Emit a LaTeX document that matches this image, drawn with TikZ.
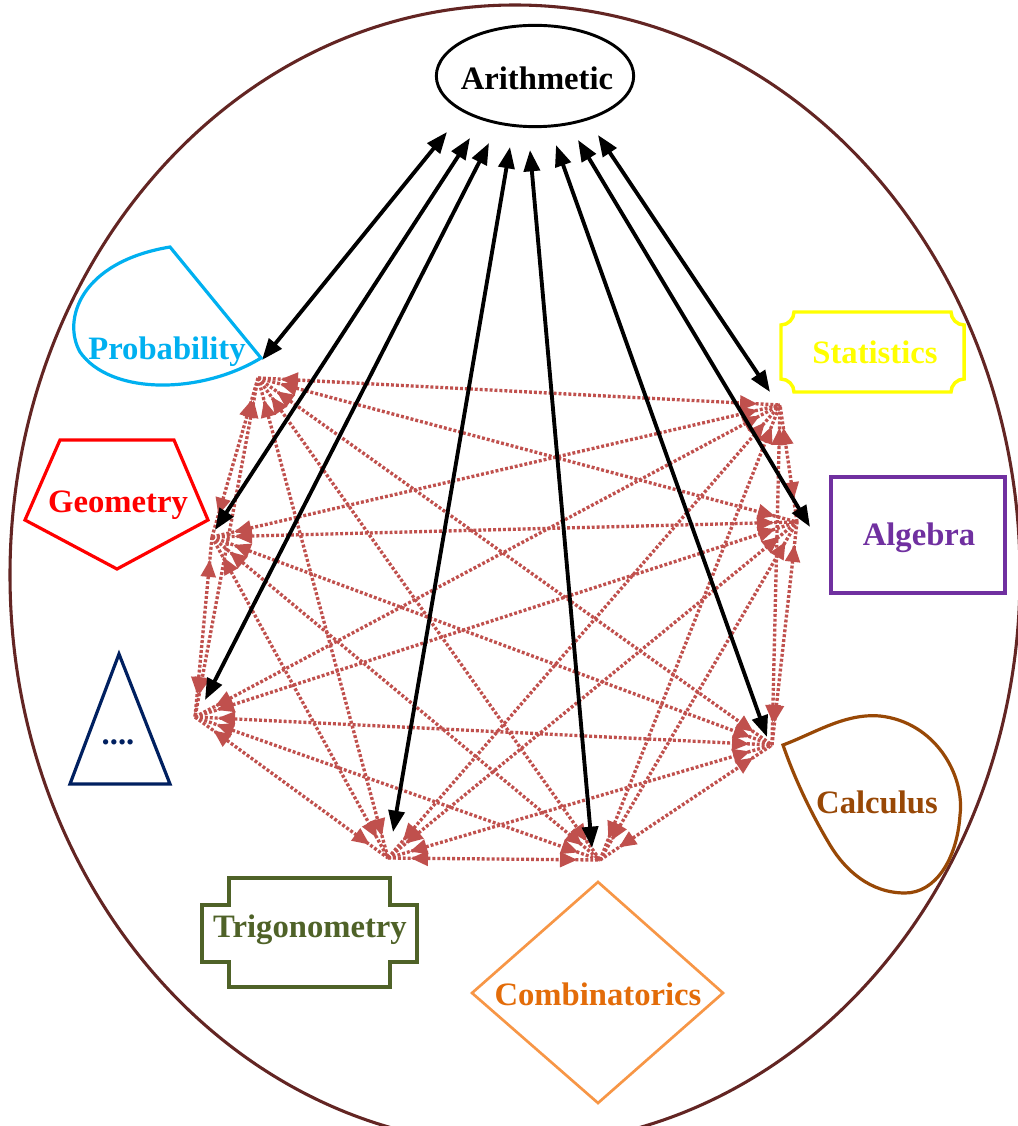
\documentclass[tikz,border=0pt]{standalone}
\usepackage{fontspec}
\setmainfont{Liberation Serif}
\usetikzlibrary{arrows.meta,shapes.geometric,decorations.markings}
\definecolor{ringc}{HTML}{632523}
\definecolor{probc}{HTML}{00B0F0}
\definecolor{statc}{HTML}{FFFF00}
\definecolor{geoc}{HTML}{FF0000}
\definecolor{algc}{HTML}{7030A0}
\definecolor{calcc}{HTML}{984806}
\definecolor{trigc}{HTML}{4F6228}
\definecolor{combc}{HTML}{F79646}
\definecolor{combt}{HTML}{E36C09}
\definecolor{dotsc}{HTML}{002060}
\definecolor{redc}{HTML}{C0504D}
\begin{document}
\begin{tikzpicture}[x=0.75pt,y=-0.75pt,
  lbl/.style={font=\fontsize{24.5}{28}\selectfont\bfseries, inner sep=0pt},
  shapeline/.style={line width=2.4pt, line join=miter},
  redarr/.style={redc, line width=2.5pt, dash pattern=on 2.2pt off 1.5pt,
    postaction={decorate, decoration={markings,
      mark=at position 17pt with {\arrowreversed[redc]{Triangle[length=13pt,width=11pt]}},
      mark=at position -17pt with {\arrow[redc]{Triangle[length=13pt,width=11pt]}}}}},
  blackarr/.style={black, line width=2.9pt,
    {Triangle[length=16pt,width=12pt]}-{Triangle[length=16pt,width=12pt]}}]
\useasboundingbox (0,0) rectangle (1017,1126);
\fill[white] (0,0) rectangle (1017,1126);
% outer ring
\draw[ringc, line width=2.3pt] (515,575) ellipse [x radius=378.75pt, y radius=427.5pt];

% hubs
\coordinate (P) at (258,378);
\coordinate (G) at (212,537);
\coordinate (D) at (195,717);
\coordinate (T) at (388,858);
\coordinate (C) at (600,860);
\coordinate (L) at (772,745);
\coordinate (A) at (797,522);
\coordinate (S) at (780,405);

% red connections
\foreach \i [count=\n] in {P,G,D,T,C,L,A,S}{
  \foreach \j [count=\m] in {P,G,D,T,C,L,A,S}{
    \ifnum\n<\m \draw[redarr] (\i) -- (\j); \fi
  }
}

% Arithmetic
\node[draw, ellipse, line width=2.2pt, minimum width=148pt, minimum height=76pt, inner sep=0pt] (arith) at (535,76) {};
\node[lbl] (arithl) at (537,78) {Arithmetic};

% black arrow ends
\coordinate (u1) at (447,132);
\coordinate (u2) at (470,138);
\coordinate (u3) at (489,143);
\coordinate (u4) at (510,147);
\coordinate (u5) at (530,150);
\coordinate (u6) at (556,145);
\coordinate (u7) at (578,140);
\coordinate (u8) at (598,135);
\coordinate (d1) at (262,360);
\coordinate (d2) at (215,530);
\coordinate (d3) at (205,700);
\coordinate (d4) at (393,832);
\coordinate (d5) at (592,848);
\coordinate (d6) at (767,737);
\coordinate (d7) at (810,527);
\coordinate (d8) at (770,392);
\foreach \k in {1,...,8}{ \draw[blackarr] (u\k) -- (d\k); }

% Probability
\draw[probc, shapeline] (170,247) -- (261,358) .. controls (200,395) and (110,395) .. (80,352) .. controls (62,320) and (80,262) .. (170,247) -- cycle;
\node[lbl, text=probc] (prob) at (167,352) {Probability};

% Statistics
\draw[statc, line width=2.6pt] (794,312) -- (951,312) .. controls (951,319) and (957,325) .. (964,325) -- (964,379) .. controls (957,379) and (951,385) .. (951,392) -- (794,392) .. controls (794,385) and (788,379) .. (781,379) -- (781,325) .. controls (788,325) and (794,319) .. (794,312) -- cycle;
\node[lbl, text=statc] (stat) at (875,352) {Statistics};

% Geometry
\draw[geoc, shapeline] (60,440) -- (174,440) -- (208,520) -- (117,569) -- (25,520) -- cycle;
\node[lbl, text=geoc] (geo) at (118,505) {Geometry};

% Algebra
\draw[algc, line width=2.6pt] (831,477) rectangle (1005,593);
\node[lbl, text=algc] (alg) at (919,538) {Algebra};

% dots triangle
\draw[dotsc, shapeline] (119,654) -- (170,784) -- (70,784) -- cycle;
\node[lbl, text=dotsc] (dots) at (118,742) {....};

% Calculus
\draw[calcc, shapeline] (783,745) .. controls (815,733) and (845,713) .. (880,716) .. controls (935,722) and (965,775) .. (960,815) .. controls (957,860) and (935,893) .. (905,893) .. controls (870,893) and (845,870) .. (830,845) .. controls (812,815) and (795,780) .. (783,745) -- cycle;
\node[lbl, text=calcc] (calc) at (877,802) {Calculus};

% Trigonometry
\draw[trigc, line width=2.6pt] (229,878) -- (390,878) -- (390,905) -- (417,905) -- (417,962) -- (390,962) -- (390,987) -- (229,987) -- (229,962) -- (202,962) -- (202,905) -- (229,905) -- cycle;
\node[lbl, text=trigc] (trig) at (310,930) {Trigonometry};

% Combinatorics
\draw[combc, line width=2pt] (598,882) -- (723,993) -- (598,1103) -- (472,993) -- cycle;
\node[lbl, text=combt] (comb) at (598,994) {Combinatorics};
\end{tikzpicture}
\end{document}
